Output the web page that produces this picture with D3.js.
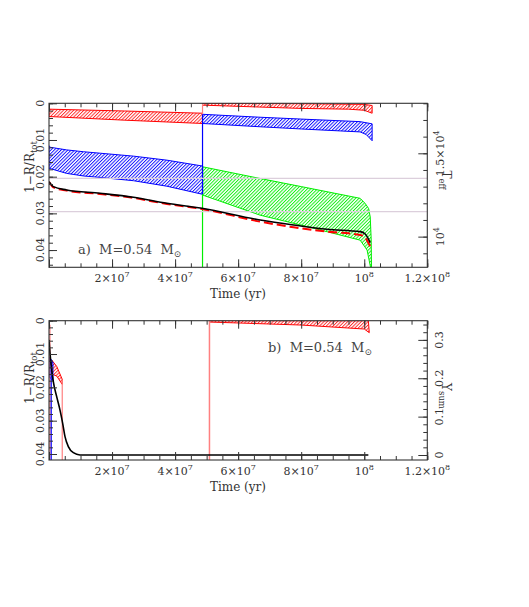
<!DOCTYPE html>
<html><head><meta charset="utf-8">
<script src="https://cdn.jsdelivr.net/npm/d3@7"></script>
<style>body{margin:0;background:#fff} svg{display:block}</style>
</head><body>
<svg id="c" width="529" height="607"></svg>
<script>
// ---------- DATA ----------
// shared x ticks
const xTickVals = [2e7, 4e7, 6e7, 8e7, 1e8, 1.2e8];
const xTickMant = ["2×10", "4×10", "6×10", "8×10", "10", "1.2×10"];
const xTickExp  = ["7", "7", "7", "7", "8", "8"];
const leftTickVals = [0, 0.01, 0.02, 0.03, 0.04];
const leftTickText = ["0", "0.01", "0.02", "0.03", "0.04"];
const teffTickVals = [10000, 15000];
const teffTickMant = ["10", "1.5×10"];
const teffTickExp  = ["4", "4"];
const ysumTickVals = [0, 0.1, 0.2, 0.3];
const ysumTickText = ["0", "0.1", "0.2", "0.3"];

// panel a : bands [time, 1-R/Rtot]
const aRedEarlyUpper  = [[0,0.0016],[2.4e7,0.0021],[4.87e7,0.0027]];
const aRedEarlyLower  = [[0,0.0036],[2.4e7,0.0046],[4.87e7,0.0055]];
const aRedLateUpper   = [[4.87e7,0.0000],[8e7,0.0001],[1.0e8,0.0003],[1.025e8,0.0006]];
const aRedLateLower   = [[4.87e7,0.0005],[8e7,0.0014],[9.5e7,0.0016],[1.0e8,0.0019],[1.025e8,0.0027]];
const aBlueEarlyUpper = [[0,0.0116],[5e5,0.0120],[5.6e6,0.0127],[1.09e7,0.0132],[1.62e7,0.0136],[2.68e7,0.0144],[3.74e7,0.0155],[4.87e7,0.0171]];
const aBlueEarlyLower = [[0,0.0177],[5.6e6,0.0191],[1.09e7,0.0198],[1.62e7,0.0202],[2.68e7,0.0211],[3.74e7,0.0226],[4.87e7,0.0248]];
const aBlueLateUpper  = [[4.87e7,0.0030],[6.7e7,0.0038],[8e7,0.0043],[9.87e7,0.0050],[1.025e8,0.0056]];
const aBlueLateLower  = [[4.87e7,0.0055],[6.7e7,0.0064],[8e7,0.0070],[9.87e7,0.0078],[1.006e8,0.0085],[1.025e8,0.0102]];
const aGreenUpper     = [[4.87e7,0.0173],[6.7e7,0.0205],[8e7,0.0227],[9.87e7,0.0259],[1.003e8,0.0273],[1.014e8,0.0287],[1.019e8,0.0310],[1.022e8,0.0370],[1.023e8,0.0447]];
const aGreenLower     = [[4.87e7,0.0250],[6.7e7,0.0305],[8e7,0.0332],[9.87e7,0.0373],[1.009e8,0.0400],[1.02e8,0.0447]];
// panel a : vertical boundaries [time, from, to]
const aVertRed   = [4.87e7, 0.0, 0.0030];
const aVertBlue  = [4.87e7, 0.0030, 0.0248];
const aVertGreen = [4.87e7, 0.0173, 0.0447];
// panel a : Teff curves [time, K]
const aTeffSolid  = [[0,13300],[1.4e6,13000],[5.6e6,12800],[1.62e7,12600],[2.68e7,12360],[3.74e7,12000],[4.85e7,11700],[6.7e7,11000],[7.76e7,10700],[8.82e7,10440],[9.87e7,10300],[1.003e8,10160],[1.019e8,9640]];
const aTeffDashed = [[0,13300],[1.4e6,12950],[5.6e6,12760],[1.62e7,12560],[2.68e7,12320],[3.74e7,11960],[4.85e7,11660],[6.7e7,10900],[7.76e7,10560],[8.82e7,10300],[9.87e7,10100],[1.0e8,10000],[1.019e8,9400]];
const aTeffRefLines = [13500, 11500];

// panel b : bands [time, 1-R/Rtot]
const bBlueUpper = [[2e5,0.0110],[1.25e6,0.0125]];
const bBlueLower = [[2e5,0.0170],[1.25e6,0.0180]];
const bRedSmallUpper = [[8.6e5,0.0118],[2.44e6,0.0137],[4.2e6,0.0176]];
const bRedSmallLower = [[8.6e5,0.0160],[2.44e6,0.0166],[4.2e6,0.0191]];
const bRedLateUpper = [[5.09e7,0.0],[1.013e8,0.0]];
const bRedLateLower = [[5.09e7,0.0004],[8e7,0.0013],[1.0e8,0.0025],[1.016e8,0.0036]];
const bVertRed1 = [3e5, 0.0012, 0.0418];
const bVertBlue = [7e5, 0.0117, 0.0418];
const bVertRed2 = [4.2e6, 0.0178, 0.0418];
const bVertRed3 = [5.09e7, 0.0, 0.0418];
// panel b : Ysum curve
const bYsum = [[0,0.300],[3.2e5,0.265],[8.6e5,0.222],[1.37e6,0.191],[2.44e6,0.152],[3.49e6,0.117],[4.35e6,0.082],[5.08e6,0.048],[6.13e6,0.022],[7.72e6,0.006],[9.84e6,0.0],[1.013e8,0.0]];

// ---------- DRAWING ----------
const svg = d3.select("#c");
const FONT = "DejaVu Serif";
const INK = "#333";
const defs = svg.append("defs");
function hatch(id, color){
  const p = defs.append("pattern").attr("id", id).attr("patternUnits","userSpaceOnUse")
    .attr("width",2.4).attr("height",2.4).attr("patternTransform","rotate(45)");
  p.append("line").attr("x1",0.5).attr("y1",0).attr("x2",0.5).attr("y2",2.4)
    .attr("stroke",color).attr("stroke-width",0.9);
}
hatch("hr","#ff2020"); hatch("hb","#0000ff"); hatch("hg","#00ee00");
const colors = {r:"#ff0000", b:"#0000ff", g:"#00ee00", lr:"#ff8080"};

const L = 49, R = 427.3;
const x = d3.scaleLinear().domain([0,1.2e8]).range([L,R]);
const panels = {
  a: {top:103.3, bot:267.3},
  b: {top:320.7, bot:460}
};
const yA = d3.scaleLinear().domain([0,0.0447]).range([panels.a.top, panels.a.bot]);
const tA = d3.scaleLinear().domain([8160,18000]).range([panels.a.bot, panels.a.top]);
const yB = d3.scaleLinear().domain([0,0.0418]).range([panels.b.top, panels.b.bot]);
const sB = d3.scaleLinear().domain([-0.013,0.35]).range([panels.b.bot, panels.b.top]);

function clip(id, p){
  defs.append("clipPath").attr("id",id).append("rect")
    .attr("x",L).attr("y",p.top).attr("width",R-L).attr("height",p.bot-p.top);
}
clip("ca", panels.a); clip("cb", panels.b);
const gA = svg.append("g").attr("clip-path","url(#ca)");
const gB = svg.append("g").attr("clip-path","url(#cb)");

function band(g, ys, upper, lower, pat, color){
  const pts = upper.map(d=>[x(d[0]), ys(d[1])]).concat(lower.slice().reverse().map(d=>[x(d[0]), ys(d[1])]));
  g.append("path").attr("d", d3.line()(pts) + "Z")
    .attr("fill", `url(#${pat})`).attr("stroke", color).attr("stroke-width",1);
}
function vline(g, ys, v, color, w){
  g.append("line").attr("x1",x(v[0])).attr("x2",x(v[0])).attr("y1",ys(v[1])).attr("y2",ys(v[2]))
    .attr("stroke",color).attr("stroke-width",w||1.2);
}
// panel a
band(gA, yA, aRedEarlyUpper, aRedEarlyLower, "hr", colors.r);
band(gA, yA, aRedLateUpper, aRedLateLower, "hr", colors.r);
band(gA, yA, aGreenUpper, aGreenLower, "hg", colors.g);
band(gA, yA, aBlueEarlyUpper, aBlueEarlyLower, "hb", colors.b);
band(gA, yA, aBlueLateUpper, aBlueLateLower, "hb", colors.b);
vline(gA, yA, aVertGreen, colors.g);
vline(gA, yA, aVertBlue, colors.b);
vline(gA, yA, aVertRed, colors.lr);
aTeffRefLines.forEach(t=>{
  gA.append("line").attr("x1",L).attr("x2",R).attr("y1",tA(t)).attr("y2",tA(t))
    .attr("stroke","#dccfdc").attr("stroke-width",1.3);
});
const lineA = d3.line().x(d=>x(d[0])).y(d=>tA(d[1])).curve(d3.curveMonotoneX);
gA.append("path").attr("d",lineA(aTeffDashed)).attr("fill","none").attr("stroke","#ff0000")
  .attr("stroke-width",2).attr("stroke-dasharray","9,4");
gA.append("path").attr("d",lineA(aTeffSolid)).attr("fill","none").attr("stroke","#000")
  .attr("stroke-width",1.6);

// panel b
band(gB, yB, bRedLateUpper, bRedLateLower, "hr", colors.r);
band(gB, yB, bRedSmallUpper, bRedSmallLower, "hr", colors.r);
band(gB, yB, bBlueUpper, bBlueLower, "hb", colors.b);
vline(gB, yB, bVertRed1, colors.lr);
vline(gB, yB, bVertBlue, colors.b);
vline(gB, yB, bVertRed2, colors.lr);
vline(gB, yB, bVertRed3, colors.lr, 1.5);
const lineB = d3.line().x(d=>x(d[0])).y(d=>sB(d[1])).curve(d3.curveMonotoneX);
gB.append("path").attr("d",lineB(bYsum)).attr("fill","none").attr("stroke","#000").attr("stroke-width",1.6);

// ---------- AXES ----------
function frame(p){
  svg.append("rect").attr("x",L).attr("y",p.top).attr("width",R-L).attr("height",p.bot-p.top)
    .attr("fill","none").attr("stroke",INK).attr("stroke-width",1.1);
}
function ticks(axisFn, scale, vals, size, transform){
  const g = svg.append("g").attr("transform",transform)
    .call(axisFn(scale).tickValues(vals).tickSize(size).tickFormat(""));
  g.select(".domain").remove();
  g.selectAll("line").attr("stroke",INK).attr("stroke-width",1);
}
const xMinor = d3.range(0, 1.2e8+1, 5e6);
const xMajor = d3.range(0, 1.2e8+1, 2e7);
function xTicks(p){
  ticks(d3.axisBottom, x, xMinor, -4, `translate(0,${p.bot})`);
  ticks(d3.axisBottom, x, xMajor, -8, `translate(0,${p.bot})`);
  ticks(d3.axisTop, x, xMinor, -4, `translate(0,${p.top})`);
  ticks(d3.axisTop, x, xMajor, -8, `translate(0,${p.top})`);
  const t = svg.append("g").attr("font-family",FONT).attr("font-size",11).attr("fill",INK);
  xTickVals.forEach((v,i)=>{
    const tx = t.append("text").attr("x",x(v)).attr("y",p.bot+15).attr("text-anchor","middle");
    tx.append("tspan").text(xTickMant[i]);
    tx.append("tspan").attr("dy",-5).attr("font-size",8).text(xTickExp[i]);
  });
  t.append("text").attr("x",238).attr("y",p.bot+31).attr("text-anchor","middle")
    .attr("font-size",12).text("Time (yr)");
}
function leftAxis(p, ys, maxv, center){
  ticks(d3.axisLeft, ys, d3.range(0, maxv+1e-9, 0.002), -4, `translate(${L},0)`);
  ticks(d3.axisLeft, ys, d3.range(0, maxv+1e-9, 0.01), -8, `translate(${L},0)`);
  const t = svg.append("g").attr("font-family",FONT).attr("font-size",11).attr("fill",INK);
  leftTickVals.forEach((v,i)=>{
    t.append("text").attr("transform",`translate(44,${ys(v)}) rotate(-90)`)
      .attr("text-anchor","middle").text(leftTickText[i]);
  });
  const lab = t.append("text").attr("transform",`translate(34,${center}) rotate(-90)`)
    .attr("text-anchor","middle").attr("font-size",12);
  lab.append("tspan").text("1−R/R");
  lab.append("tspan").attr("dy",3).attr("font-size",8.5).text("tot");
}
function titleText(xp, yp, letter){
  const t = svg.append("text").attr("x",xp).attr("y",yp).attr("font-family",FONT)
    .attr("font-size",13).attr("fill","#444").attr("xml:space","preserve");
  t.append("tspan").text(letter + ")  M=0.54  M");
  t.append("tspan").attr("dy",3).attr("font-size",9).text("⊙");
}

// panel a axes
frame(panels.a);
xTicks(panels.a);
leftAxis(panels.a, yA, 0.0447, 167);
ticks(d3.axisRight, tA, d3.range(9000, 18001, 1000), -4, `translate(${R},0)`);
ticks(d3.axisRight, tA, [10000, 15000], -9, `translate(${R},0)`);
{
  const t = svg.append("g").attr("font-family",FONT).attr("font-size",11).attr("fill",INK);
  teffTickVals.forEach((v,i)=>{
    const tx = t.append("text").attr("transform",`translate(443.5,${tA(v)}) rotate(-90)`).attr("text-anchor","middle");
    tx.append("tspan").text(teffTickMant[i]);
    tx.append("tspan").attr("dy",-5).attr("font-size",8).text(teffTickExp[i]);
  });
  const lab = t.append("text").attr("transform",`translate(442,180) rotate(90)`)
    .attr("text-anchor","middle").attr("font-size",12);
  lab.append("tspan").text("T");
  lab.append("tspan").attr("dy",3).attr("font-size",8.5).text("eff");
}
titleText(78, 254, "a");

// panel b axes
frame(panels.b);
xTicks(panels.b);
leftAxis(panels.b, yB, 0.0418, 378);
ticks(d3.axisRight, sB, d3.range(0, 0.3401, 0.02), -4, `translate(${R},0)`);
ticks(d3.axisRight, sB, [0, 0.1, 0.2, 0.3], -9, `translate(${R},0)`);
{
  const t = svg.append("g").attr("font-family",FONT).attr("font-size",11).attr("fill",INK);
  ysumTickVals.forEach((v,i)=>{
    t.append("text").attr("transform",`translate(442.5,${sB(v)}) rotate(-90)`)
      .attr("text-anchor","middle").text(ysumTickText[i]);
  });
  const lab = t.append("text").attr("transform",`translate(442,396) rotate(90)`)
    .attr("text-anchor","middle").attr("font-size",12);
  lab.append("tspan").text("Y");
  lab.append("tspan").attr("dy",3).attr("font-size",8.5).text("sum");
}
titleText(268, 352, "b");
</script>
</body></html>
